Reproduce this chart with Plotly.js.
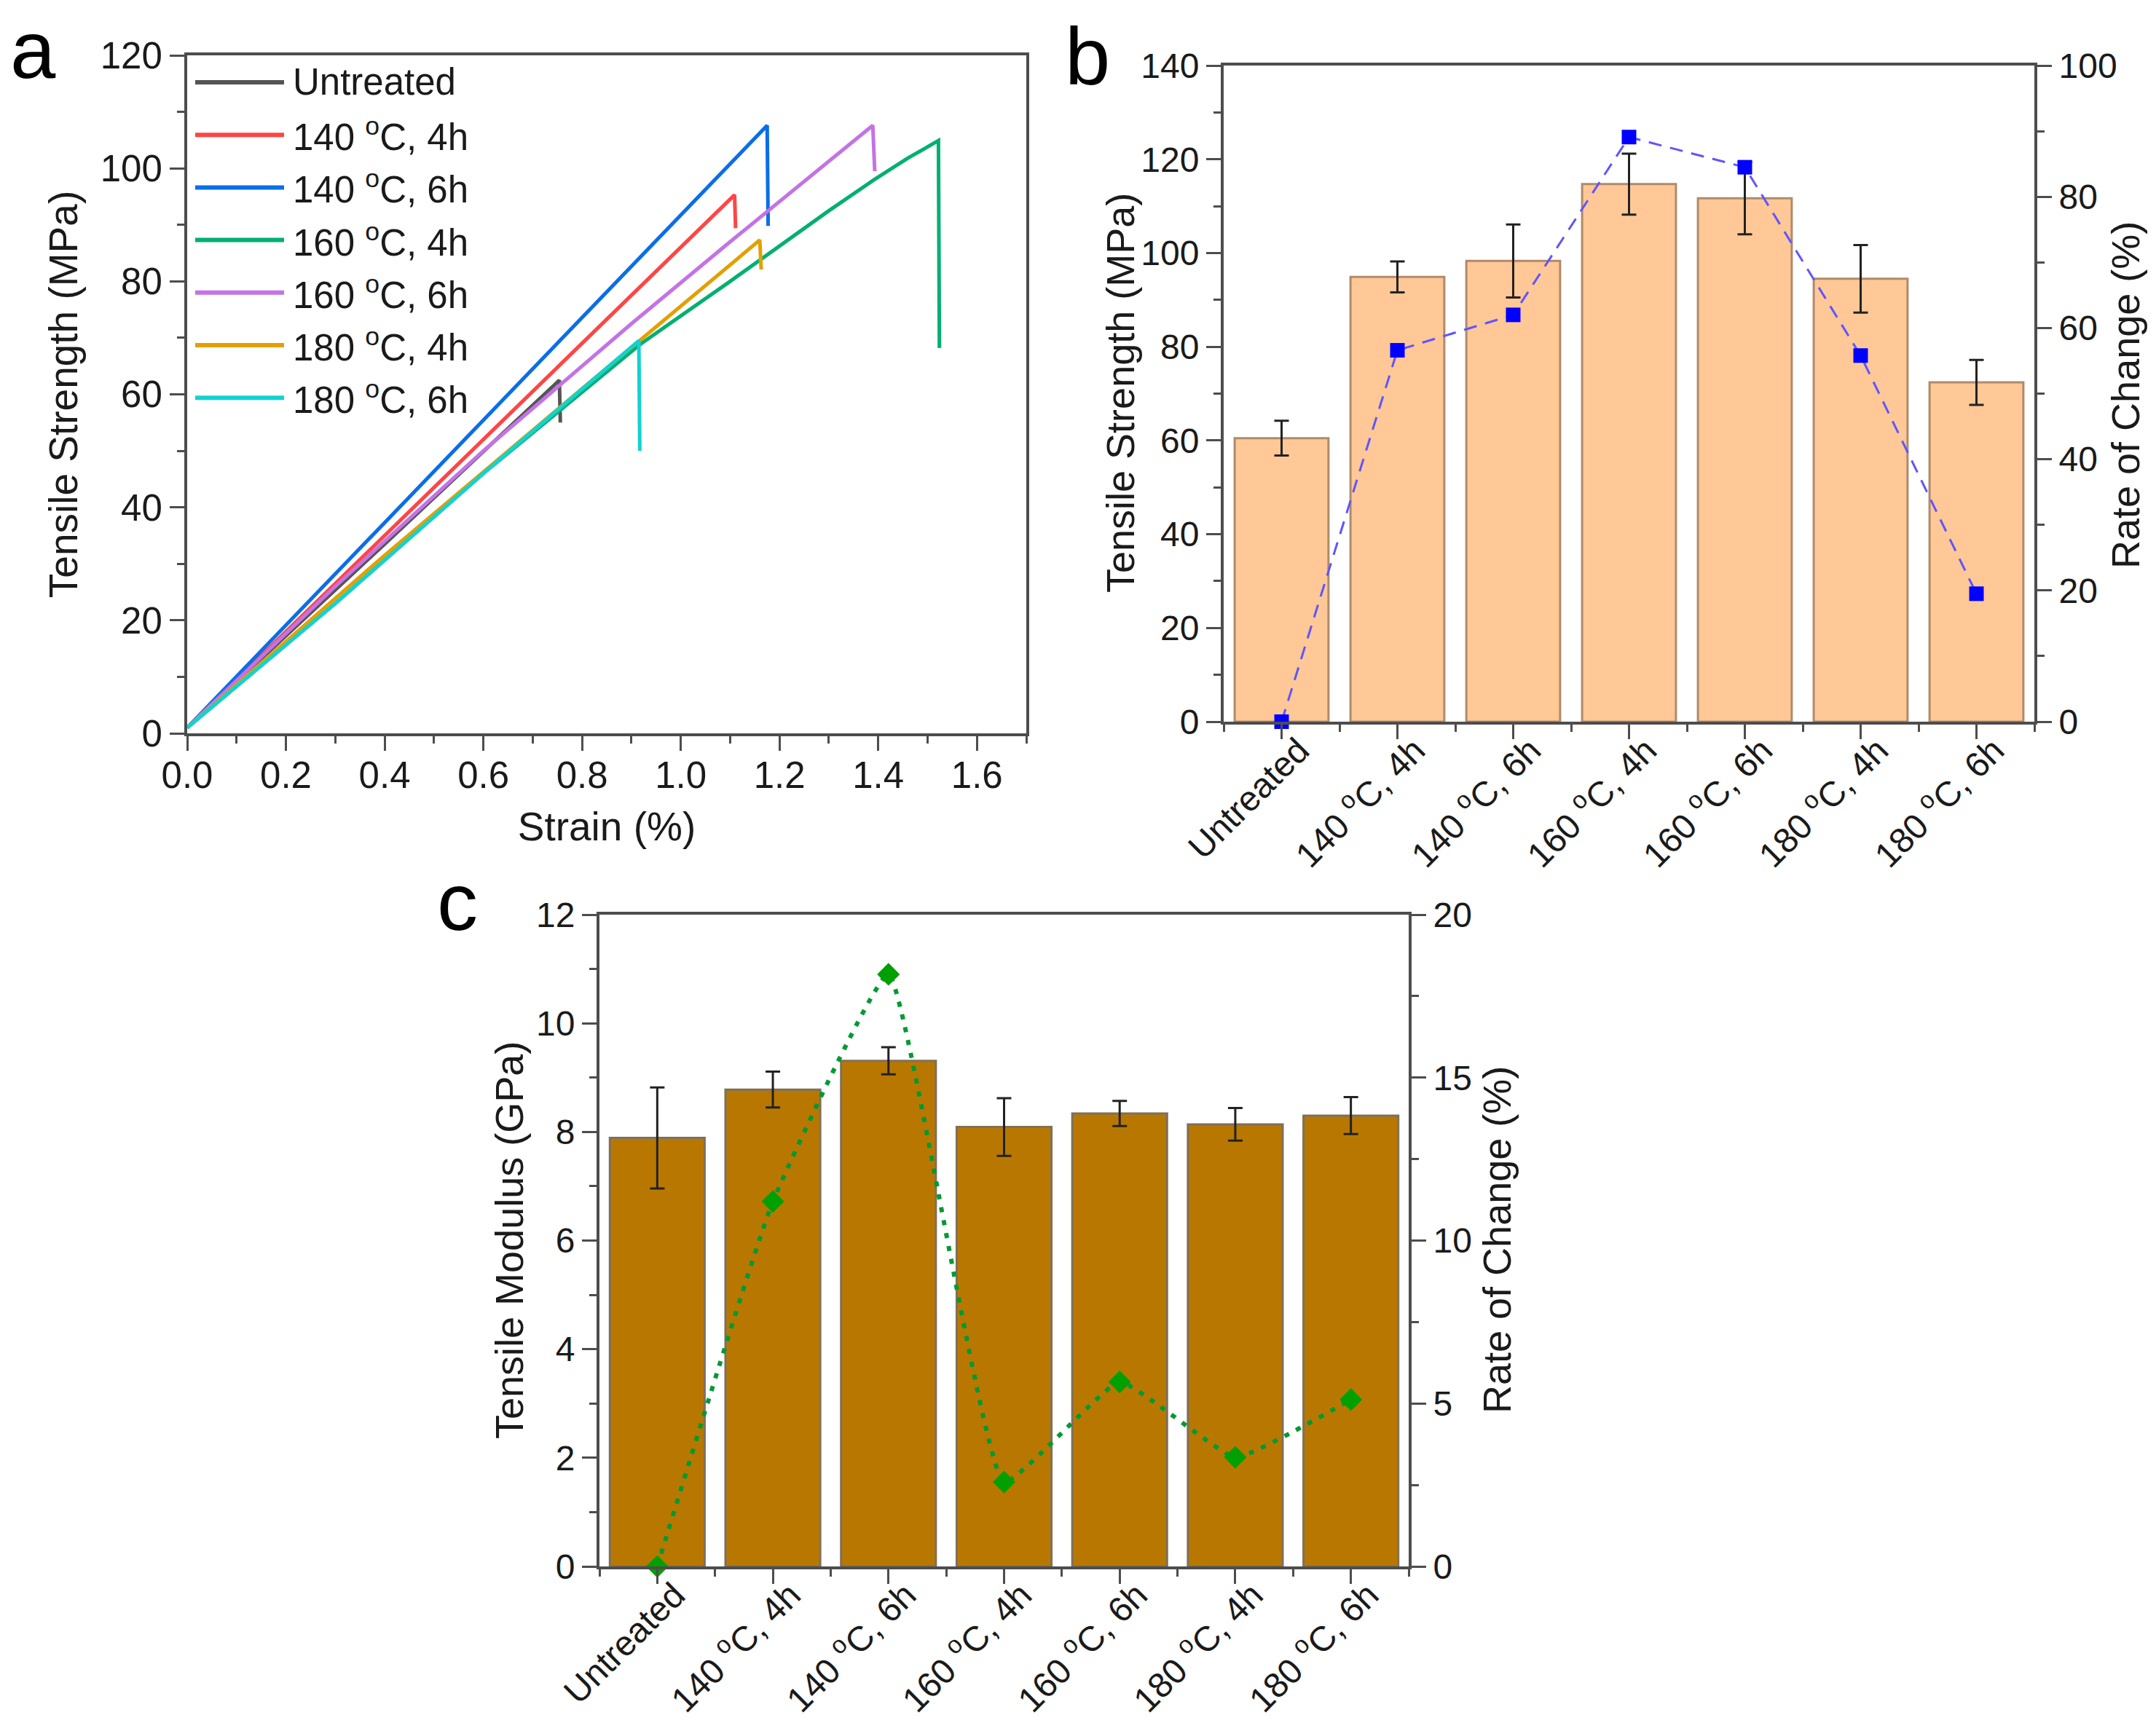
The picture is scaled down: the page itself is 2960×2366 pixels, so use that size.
<!DOCTYPE html>
<html>
<head>
<meta charset="utf-8">
<script src="https://cdn.plot.ly/plotly-3.0.1.min.js"></script>
<style>
    body { margin: 0; background: #fff; }
    #chart { width: 2960px; height: 2366px; }
</style>
</head>
<body>
<div id="chart"></div>
<script>
// ---- values ----

// treatment groups (legend in a, x labels in b and c)
const groups = ["Untreated", "140 <sup>o</sup>C, 4h", "140 <sup>o</sup>C, 6h", "160 <sup>o</sup>C, 4h",
                "160 <sup>o</sup>C, 6h", "180 <sup>o</sup>C, 4h", "180 <sup>o</sup>C, 6h"];
const groupColors = ["#555555", "#ff4545", "#0a6ee8", "#00b071", "#c472e6", "#e3a000", "#12d2d2"];

// a: stress-strain curves, strain (%) / stress (MPa)
const strainUntreated = [0, 0.40, 0.754, 0.756];
const stressUntreated = [1, 33.5, 62.5, 55.0];
const strain140h4 = [0, 0.60, 1.109, 1.111];
const stress140h4 = [1, 52.0, 95.3, 89.4];
const strain140h6 = [0, 0.60, 1.175, 1.177];
const stress140h6 = [1, 55.5, 107.6, 89.8];
const strain160h4 = [0, 0.30, 0.60, 0.92, 1.10, 1.30, 1.392, 1.46, 1.522, 1.524];
const stress160h4 = [1, 23.0, 46.0, 69.0, 80.0, 92.5, 98.0, 101.8, 104.9, 68.2];
const strain160h6 = [0, 0.30, 0.60, 0.90, 1.10, 1.389, 1.393];
const stress160h6 = [1, 26.0, 50.0, 72.5, 87.0, 107.6, 99.5];
const strain180h4 = [0, 0.40, 0.80, 1.160, 1.163];
const stress180h4 = [1, 31.5, 61.0, 87.3, 82.1];
const strain180h6 = [0, 0.30, 0.60, 0.915, 0.917];
const stress180h6 = [1, 23.0, 46.0, 69.5, 50.0];

// b: tensile strength (MPa) and its rate of change (%)
const strengthMean = [60.5, 94.9, 98.3, 114.7, 111.7, 94.5, 72.4];
const strengthErr = [3.7, 3.3, 7.8, 6.5, 7.7, 7.2, 4.8];
const strengthRate = [0, 56.6, 62.0, 89.1, 84.5, 55.8, 19.5];

// c: tensile modulus (GPa) and its rate of change (%)
const modulusMean = [7.89, 8.78, 9.31, 8.09, 8.34, 8.14, 8.30];
const modulusErr = [0.93, 0.33, 0.25, 0.53, 0.23, 0.30, 0.34];
const modulusRate = [0, 11.2, 18.17, 2.59, 5.66, 3.35, 5.12];


const W = 2960, H = 2366;
const FONT = 'Liberation Sans, Arial';

window.addEventListener("DOMContentLoaded", init);


function init() {
    let data = curveTraces().concat(strengthTraces(), modulusTraces());
    Plotly.newPlot('chart', data, buildLayout(), {staticPlot: true});
}


function curveTraces() {
    let xs = [strainUntreated, strain140h4, strain140h6, strain160h4, strain160h6, strain180h4, strain180h6];
    let ys = [stressUntreated, stress140h4, stress140h6, stress160h4, stress160h6, stress180h4, stress180h6];
    let traces = [];
    for (let i = 0; i < xs.length; i++) {
        traces.push({
            x: xs[i], y: ys[i], xaxis: 'x', yaxis: 'y',
            type: 'scatter', mode: 'lines', name: groups[i],
            line: {color: groupColors[i], width: 5}, showlegend: false
        });
    }
    return traces;
}


function strengthTraces() {
    let idx = groups.map((g, i) => i);
    let bars = {
        x: idx, y: strengthMean, xaxis: 'x2', yaxis: 'y3', type: 'bar', width: 0.81,
        marker: {color: '#ffc896', line: {color: '#b08a6a', width: 3}},
        error_y: {type: 'data', array: strengthErr, color: '#222', thickness: 3, width: 10},
        showlegend: false
    };
    let rate = {
        x: idx, y: strengthRate, xaxis: 'x2', yaxis: 'y4', type: 'scatter', mode: 'lines+markers',
        line: {color: '#5f55ff', width: 3, dash: '18px,12px'},
        marker: {symbol: 'square', size: 20, color: '#0000ff'},
        cliponaxis: false, showlegend: false
    };
    return [bars, rate];
}


function modulusTraces() {
    let idx = groups.map((g, i) => i);
    let bars = {
        x: idx, y: modulusMean, xaxis: 'x3', yaxis: 'y5', type: 'bar', width: 0.82,
        marker: {color: '#b87800', line: {color: '#7f705a', width: 3}},
        error_y: {type: 'data', array: modulusErr, color: '#222', thickness: 3, width: 10},
        showlegend: false
    };
    let rate = {
        x: idx, y: modulusRate, xaxis: 'x3', yaxis: 'y6', type: 'scatter', mode: 'lines+markers',
        line: {color: '#009a33', width: 6, dash: '7px,11px', shape: 'spline', smoothing: 0.35},
        marker: {symbol: 'diamond', size: 24, color: '#00a000'},
        cliponaxis: false, showlegend: false
    };
    return [bars, rate];
}


// shared look of every axis
function axis(extra, size) {
    let base = {
        showline: true, linecolor: '#4d4d4d', linewidth: 4,
        ticks: 'outside', ticklen: 20, tickwidth: 3, tickcolor: '#4d4d4d',
        tickfont: {family: FONT, size: size || 48, color: '#1a1a1a'},
        showgrid: false, zeroline: false, fixedrange: true
    };
    return Object.assign(base, extra);
}

function minor(dtick, tick0) {
    return {ticks: 'outside', ticklen: 10, tickwidth: 3, tickcolor: '#4d4d4d',
            tickmode: 'linear', dtick: dtick, tick0: tick0 || 0, showgrid: false};
}

function title(text, standoff) {
    return {text: text, font: {family: FONT, size: 55, color: '#1a1a1a'}, standoff: standoff};
}

// vertical axis title placed by hand (pixel centre)
function sideTitle(text, px, py) {
    return {text: text, x: px / W, y: 1 - py / H, xref: 'paper', yref: 'paper',
            xanchor: 'center', yanchor: 'middle', textangle: -90, showarrow: false,
            font: {family: FONT, size: 54, color: '#1a1a1a'}};
}


function buildLayout() {
    let idx = groups.map((g, i) => i);
    // category axis of a bar panel, slanted labels
    let catAxis = (dom, anchor) => axis({
        domain: dom, anchor: anchor, range: [-0.5, 6.5], mirror: true,
        tickmode: 'array', tickvals: idx, ticktext: groups, tickangle: -45,
        ticklabelstandoff: -32, ticklabelshift: 24,
        minor: minor(1, -0.5)
    });

    let layout = {
        width: W, height: H,
        margin: {l: 0, r: 0, t: 0, b: 0},
        paper_bgcolor: '#fff', plot_bgcolor: '#fff',
        font: {family: FONT, color: '#1a1a1a'},

        // a
        xaxis: axis({domain: [257 / W, 1409 / W], anchor: 'y', range: [0, 1.7], dtick: 0.2,
                     tickformat: '.1f', mirror: true, minor: minor(0.1), ticklabelstandoff: -10,
                     title: title('Strain (%)', 24)}, 51),
        yaxis: axis({domain: [1 - 1007 / H, 1 - 76 / H], anchor: 'x', range: [0, 120], dtick: 20,
                     mirror: true, minor: minor(10), title: title('Tensile Strength (MPa)', 14)}, 51),

        // b
        xaxis2: catAxis([1680 / W, 2793 / W], 'y3'),
        yaxis3: axis({domain: [1 - 991 / H, 1 - 90 / H], anchor: 'x2', range: [0, 140], dtick: 20,
                      minor: minor(10)}),
        yaxis4: axis({overlaying: 'y3', anchor: 'x2', side: 'right', range: [0, 100], dtick: 20,
                      minor: minor(10)}),

        // c
        xaxis3: catAxis([823 / W, 1934 / W], 'y5'),
        yaxis5: axis({domain: [1 - 2151 / H, 1 - 1256 / H], anchor: 'x3', range: [0, 12], dtick: 2,
                      minor: minor(1)}),
        yaxis6: axis({overlaying: 'y5', anchor: 'x3', side: 'right', range: [0, 20], dtick: 5,
                      minor: minor(2.5)}),

        shapes: [],
        annotations: [
            sideTitle('Tensile Strength (MPa)', 1538, 540),
            sideTitle('Rate of Change (%)', 2918, 543),
            sideTitle('Tensile Modulus (GPa)', 699, 1703),
            sideTitle('Rate of Change (%)', 2055, 1703)
        ]
    };

    // panel letters
    let letters = [['a', 12, 68], ['b', 1460, 78], ['c', 598, 1238]];
    letters.forEach(l => layout.annotations.push({
        text: l[0], x: l[1] / W, y: 1 - l[2] / H, xref: 'paper', yref: 'paper',
        xanchor: 'left', yanchor: 'middle', showarrow: false,
        font: {family: FONT, size: 112, color: '#000'}
    }));

    // legend of panel a, drawn as long line samples
    for (let i = 0; i < groups.length; i++) {
        let yy = 1 - (113 + 72.2 * i) / H;
        layout.shapes.push({
            type: 'line', xref: 'paper', yref: 'paper',
            x0: 268 / W, x1: 390 / W, y0: yy, y1: yy,
            line: {color: groupColors[i], width: 6}
        });
        layout.annotations.push({
            text: groups[i], x: 400 / W, y: yy, xref: 'paper', yref: 'paper',
            xanchor: 'left', yanchor: 'middle', showarrow: false,
            font: {family: FONT, size: 51, color: '#1a1a1a'}
        });
    }
    return layout;
}
</script>
</body>
</html>
